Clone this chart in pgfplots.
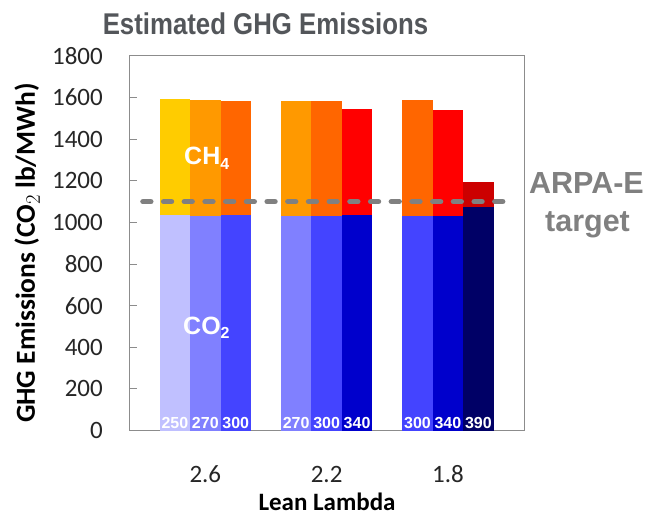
\documentclass[border=0pt]{standalone}
\usepackage{pgfplots}
\pgfplotsset{compat=1.18}
\usepackage{fontspec}
\setmainfont{Carlito}
\newfontfamily\arial{Liberation Sans}
\definecolor{coA}{HTML}{C0C0FF}
\definecolor{coB}{HTML}{8080FF}
\definecolor{coC}{HTML}{4444FF}
\definecolor{coD}{HTML}{0000CC}
\definecolor{coE}{HTML}{000066}
\definecolor{chA}{HTML}{FFCC00}
\definecolor{chB}{HTML}{FF9900}
\definecolor{chC}{HTML}{FF6600}
\definecolor{chD}{HTML}{FF0000}
\definecolor{chE}{HTML}{CC0000}
\definecolor{axisgray}{HTML}{8C8C8C}
\definecolor{dashgray}{HTML}{808080}
\definecolor{titlegray}{HTML}{53565A}
\definecolor{labelgray}{HTML}{262626}
\tikzset{templabel/.style={anchor=base, text=white, inner sep=0pt, yshift=2bp,
  font=\arial\bfseries\fontsize{16bp}{18bp}\selectfont}}
\begin{document}
\begin{tikzpicture}
\path[use as bounding box] (-130bp,-84.5bp) rectangle (518bp,430.5bp);
\begin{axis}[at={(0,0)}, anchor=south west, scale only axis,
 width=394bp, height=374.5bp,
 xmin=-0.621, xmax=2.627, ymin=0, ymax=1800,
 ytick={0,200,...,1800}, xtick={0,1,2}, xticklabels={2.6,2.2,1.8},
 scaled y ticks=false,
 /pgf/number format/1000 sep={},
 /pgf/number format/assume math mode=true,
 axis line style={color=axisgray, line width=1bp},
 tick style={color=axisgray, line width=1bp},
 major tick length=7bp,
 ytick pos=left, xtick style={draw=none},
 tick align=inside,
 ticklabel style={font=\fontsize{25bp}{30bp}\selectfont, text=labelgray},
 yticklabel style={anchor=east, inner sep=0pt, xshift=-27bp},
 xticklabel style={anchor=base, inner sep=0pt, yshift=-44.5bp},
 ybar, bar width=0.251, bar shift=0pt, clip=false]
% totals (CO2 + CH4), drawn first
\addplot[fill=chA, draw=none] coordinates {(-0.251,1595)};
\addplot[fill=chB, draw=none] coordinates {(0,1589)};
\addplot[fill=chC, draw=none] coordinates {(0.251,1584)};
\addplot[fill=chB, draw=none] coordinates {(0.749,1584)};
\addplot[fill=chC, draw=none] coordinates {(1,1584)};
\addplot[fill=chD, draw=none] coordinates {(1.251,1546)};
\addplot[fill=chC, draw=none] coordinates {(1.749,1590)};
\addplot[fill=chD, draw=none] coordinates {(2,1542)};
\addplot[fill=chE, draw=none] coordinates {(2.251,1194)};
% CO2 part
\addplot[fill=coA, draw=none] coordinates {(-0.251,1035)};
\addplot[fill=coB, draw=none] coordinates {(0,1030)};
\addplot[fill=coC, draw=none] coordinates {(0.251,1035)};
\addplot[fill=coB, draw=none] coordinates {(0.749,1029)};
\addplot[fill=coC, draw=none] coordinates {(1,1029)};
\addplot[fill=coD, draw=none] coordinates {(1.251,1037)};
\addplot[fill=coC, draw=none] coordinates {(1.749,1029)};
\addplot[fill=coD, draw=none] coordinates {(2,1029)};
\addplot[fill=coE, draw=none] coordinates {(2.251,1072)};
% ARPA-E target
\addplot[sharp plot, color=dashgray, line width=5.5bp, line cap=round,
  dash pattern=on 7.8bp off 12.9bp] coordinates {(-0.514,1100) (2.47,1100)};
% temperature labels
\node[templabel] at (axis cs:-0.251,0) {250};
\node[templabel] at (axis cs:0,0) {270};
\node[templabel] at (axis cs:0.251,0) {300};
\node[templabel] at (axis cs:0.749,0) {270};
\node[templabel] at (axis cs:1,0) {300};
\node[templabel] at (axis cs:1.251,0) {340};
\node[templabel] at (axis cs:1.749,0) {300};
\node[templabel] at (axis cs:2,0) {340};
\node[templabel] at (axis cs:2.251,0) {390};
\end{axis}
% title
\node[anchor=base, xscale=0.86, text=titlegray, font=\arial\bfseries\fontsize{30bp}{36bp}\selectfont] at (135.5bp,395.5bp) {Estimated GHG Emissions};
% y label
\node[anchor=base, rotate=90, text=black, font=\bfseries\fontsize{27.5bp}{32bp}\selectfont] at (-95bp,177.5bp) {GHG Emissions\ (CO$_2$ lb/MWh)};
% x label
\node[anchor=base, inner sep=0pt, text=black, font=\bfseries\fontsize{25bp}{30bp}\selectfont] at (197bp,-79.5bp) {Lean Lambda};
% in-bar labels
\node[anchor=base west, inner sep=0pt, text=white, font=\arial\bfseries\fontsize{25bp}{30bp}\selectfont] at (54bp,265.5bp) {CH\raisebox{-5bp}{\fontsize{16bp}{18bp}\selectfont 4}};
\node[anchor=base west, inner sep=0pt, text=white, font=\arial\bfseries\fontsize{25bp}{30bp}\selectfont] at (53bp,95.5bp) {CO\raisebox{-4bp}{\fontsize{16bp}{18bp}\selectfont 2}};
% ARPA-E target text
\node[anchor=base, inner sep=0pt, text=dashgray, font=\arial\bfseries\fontsize{30.5bp}{36bp}\selectfont] at (456.5bp,237.2bp) {ARPA-E};
\node[anchor=base, inner sep=0pt, text=dashgray, font=\arial\bfseries\fontsize{30.5bp}{36bp}\selectfont] at (457.5bp,198.5bp) {target};
\end{tikzpicture}
\end{document}
